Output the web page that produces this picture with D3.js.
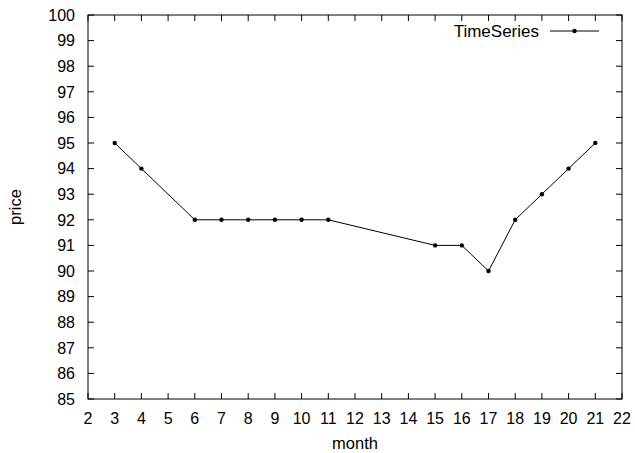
<!DOCTYPE html>
<html><head><meta charset="utf-8">
<script src="https://cdn.jsdelivr.net/npm/d3@7"></script>
<style>body{margin:0;background:#fff}svg{display:block}text{font-family:"Liberation Sans",Arial,sans-serif;fill:#000}</style>
</head><body><svg id="c" width="635" height="453"></svg>
<script>
const months = [3,4,6,7,8,9,10,11,15,16,17,18,19,20,21];
const prices = [95,94,92,92,92,92,92,92,91,91,90,92,93,94,95];
const xTicks = d3.range(2,23);
const yTicks = d3.range(85,101);
const seriesName = "TimeSeries";

const svg = d3.select("#c");
const L=88,R=622,T=15,B=399;
const x = d3.scaleLinear().domain([2,22]).range([L,R]);
const y = d3.scaleLinear().domain([85,100]).range([B,T]);
const tl = 6, fs = 16;
const g = svg.append("g");
xTicks.forEach(v=>{
  g.append("line").attr("x1",x(v)).attr("x2",x(v)).attr("y1",B).attr("y2",B-tl).attr("stroke","#000");
  g.append("line").attr("x1",x(v)).attr("x2",x(v)).attr("y1",T).attr("y2",T+tl).attr("stroke","#000");
  g.append("text").attr("x",x(v)).attr("y",424).attr("text-anchor","middle").attr("font-size",fs).text(v);
});
yTicks.forEach(v=>{
  g.append("line").attr("x1",L).attr("x2",L+tl).attr("y1",y(v)).attr("y2",y(v)).attr("stroke","#000");
  g.append("line").attr("x1",R).attr("x2",R-tl).attr("y1",y(v)).attr("y2",y(v)).attr("stroke","#000");
  g.append("text").attr("x",75).attr("y",y(v)).attr("dy","0.36em").attr("text-anchor","end").attr("font-size",fs).text(v);
});
g.append("rect").attr("x",L).attr("y",T).attr("width",R-L).attr("height",B-T).attr("fill","none").attr("stroke","#000");
svg.append("text").attr("x",(L+R)/2).attr("y",449).attr("text-anchor","middle").attr("font-size",16.5).text("month");
svg.append("text").attr("transform","translate(21,"+((T+B)/2)+") rotate(-90)").attr("text-anchor","middle").attr("font-size",16.5).text("price");
const data = months.map((m,i)=>({m,p:prices[i]}));
svg.append("path").datum(data).attr("d",d3.line().x(d=>x(d.m)).y(d=>y(d.p))).attr("fill","none").attr("stroke","#000").attr("stroke-width",1);
svg.selectAll("circle.pt").data(data).join("circle").attr("class","pt").attr("cx",d=>x(d.m)).attr("cy",d=>y(d.p)).attr("r",2.2).attr("fill","#000");
svg.append("text").attr("x",539).attr("y",31).attr("dy","0.36em").attr("text-anchor","end").attr("font-size",17).text(seriesName);
svg.append("line").attr("x1",550).attr("x2",599).attr("y1",31).attr("y2",31).attr("stroke","#000");
svg.append("circle").attr("cx",574.5).attr("cy",31).attr("r",2.2).attr("fill","#000");
</script></body></html>
